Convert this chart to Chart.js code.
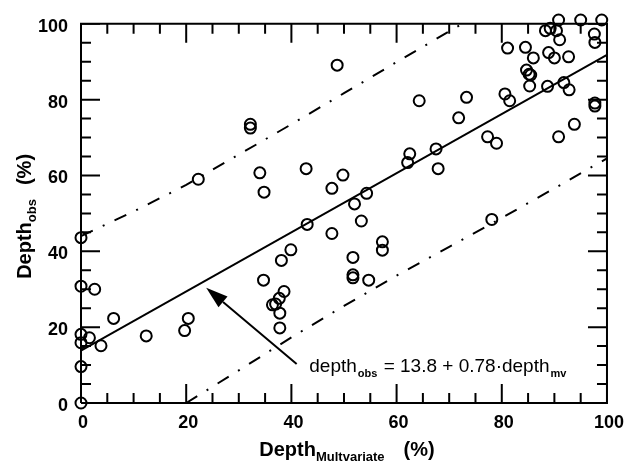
<!DOCTYPE html>
<html>
<head>
<meta charset="utf-8">
<script src="https://cdn.jsdelivr.net/npm/chart.js@4.4.0/dist/chart.umd.min.js"></script>
<style>
  html, body { margin: 0; padding: 0; background: #fff; }
</style>
</head>
<body>
<canvas id="grafico" width="631" height="467"></canvas>
<script>
// observed points: depth multivariate (x) vs depth obs (y)
const depthMv = [0, 0, 0, 0, 0, 0, 1.6, 2.6, 3.8, 6.2, 12.4, 19.7, 20.4, 22.3, 32.2, 32.2, 34.0, 34.8, 42.8, 47.7,
  48.7, 49.8, 64.3, 73.3, 71.8, 62.5, 62.1, 67.5, 67.9, 54.3, 52.0, 90.8, 95.0, 99.0, 97.6, 97.7, 88.3, 89.2, 90.4, 91.0,
  81.1, 84.5, 86.0, 88.9, 90.0, 92.7, 84.7, 85.2, 85.5, 85.3, 88.7, 91.8, 92.8, 80.6, 81.5, 97.7, 97.7, 93.8, 90.8, 77.3,
  79.0, 78.1, 43.0, 47.7, 39.9, 38.1, 34.7, 38.6, 37.7, 36.4, 37.0, 37.8, 37.8, 53.3, 57.3, 57.3, 51.7, 51.7, 51.7, 54.7];
const depthObs = [0, 9.6, 15.9, 18.1, 30.8, 43.6, 17.2, 30.0, 15.1, 22.3, 17.7, 19.1, 22.3, 59.0, 73.5, 72.5, 60.7, 55.6, 61.8, 56.6,
  89.1, 60.1, 79.7, 80.6, 75.2, 65.7, 63.4, 67.0, 61.8, 55.3, 52.5, 101, 101, 101, 97.3, 95.1, 98.2, 98.8, 98.2, 95.8,
  93.6, 93.8, 91.0, 92.4, 91.0, 91.3, 87.8, 86.7, 86.5, 83.6, 83.5, 84.5, 82.6, 81.5, 79.7, 79.1, 78.3, 73.5, 70.2, 70.2,
  68.5, 48.4, 47.1, 44.7, 40.4, 37.6, 32.4, 29.4, 27.6, 25.9, 26.1, 23.7, 19.8, 48.0, 42.5, 40.3, 38.4, 33.8, 33.0, 32.4];

// regression line
const fitX = [0, 100];
const fitY = [13.8, 91.8];

// upper / lower bands (dash-dot)
const upperX = [0, 10, 20, 30, 40, 50, 60, 70, 72.5];
const upperY = [44, 50.5, 57.5, 65.5, 73.5, 81.7, 89.9, 98, 100];
const lowerX = [20, 30, 40, 50, 60, 70, 80, 90, 96, 100];
const lowerY = [0, 8.6, 17.3, 25.6, 33.6, 41.2, 48.8, 56.6, 61.4, 64.5];

const tickVals = [0, 20, 40, 60, 80, 100];
const minorVals = [0, 5, 10, 15, 20, 25, 30, 35, 40, 45, 50, 55, 60, 65, 70, 75, 80, 85, 90, 95, 100];
const axisMin = 0;
const axisMax = 100;

// arrow + equation (data coords)
const arrowTip = [23.8, 30.4];
const arrowTail = [41.0, 10.3];
const eqPos = [43.4, 8.3];

const FONTE = '"Liberation Sans", Arial, sans-serif';

function pares(xs, ys) {
  return xs.map((v, i) => ({ x: v, y: ys[i] }));
}

// tick marks on the four sides, as 'line' points half clipped by the chart area
const marcasV = [];
const marcasH = [];
minorVals.forEach(v => {
  const r = tickVals.indexOf(v) >= 0 ? 19 : 10;
  marcasV.push({ x: v, y: axisMin, r: r }, { x: v, y: axisMax, r: r });
  marcasH.push({ x: axisMin, y: v, r: r }, { x: axisMax, y: v, r: r });
});
const caixa = [
  { x: axisMin, y: axisMin }, { x: axisMax, y: axisMin },
  { x: axisMax, y: axisMax }, { x: axisMin, y: axisMax }, { x: axisMin, y: axisMin }
];

// draws a run of text pieces one after the other
function escreve(ctx, partes, x, y) {
  let cx = x;
  for (const p of partes) {
    ctx.font = p.font;
    cx += p.gap || 0;
    ctx.fillText(p.t, cx, y + (p.dy || 0));
    cx += ctx.measureText(p.t).width;
  }
  return cx - x;
}
function largura(ctx, partes) {
  let w = 0;
  for (const p of partes) {
    ctx.font = p.font;
    w += (p.gap || 0) + ctx.measureText(p.t).width;
  }
  return w;
}

const anotacoes = {
  id: 'anotacoes',
  afterDatasetsDraw(chart) {
    const { ctx, scales: { x, y } } = chart;
    ctx.save();
    ctx.fillStyle = '#000';
    ctx.strokeStyle = '#000';
    // arrow
    const tx = x.getPixelForValue(arrowTip[0]), ty = y.getPixelForValue(arrowTip[1]);
    const sx = x.getPixelForValue(arrowTail[0]), sy = y.getPixelForValue(arrowTail[1]);
    const ang = Math.atan2(ty - sy, tx - sx);
    const head = 22, half = 7;
    const bx = tx - head * Math.cos(ang), by = ty - head * Math.sin(ang);
    ctx.lineWidth = 2;
    ctx.beginPath();
    ctx.moveTo(sx, sy);
    ctx.lineTo(bx, by);
    ctx.stroke();
    ctx.beginPath();
    ctx.moveTo(tx, ty);
    ctx.lineTo(bx + half * Math.sin(ang), by - half * Math.cos(ang));
    ctx.lineTo(bx - half * Math.sin(ang), by + half * Math.cos(ang));
    ctx.closePath();
    ctx.fill();
    // equation
    ctx.textBaseline = 'alphabetic';
    ctx.textAlign = 'left';
    escreve(ctx, [
      { t: 'depth', font: '19px ' + FONTE },
      { t: 'obs', font: 'bold 11px ' + FONTE, dy: 5, gap: 1 },
      { t: ' = 13.8 + 0.78\u00B7depth', font: '19px ' + FONTE, gap: 1 },
      { t: 'mv', font: 'bold 11px ' + FONTE, dy: 5, gap: 1 }
    ], x.getPixelForValue(eqPos[0]), y.getPixelForValue(eqPos[1]));
    ctx.restore();
  },
  afterDraw(chart) {
    const { ctx, chartArea: a } = chart;
    ctx.save();
    ctx.fillStyle = '#000';
    ctx.textBaseline = 'alphabetic';
    ctx.textAlign = 'left';
    // x title
    const tituloX = [
      { t: 'Depth', font: 'bold 20px ' + FONTE },
      { t: 'Multvariate', font: 'bold 13px ' + FONTE, dy: 5 },
      { t: '(%)', font: 'bold 20px ' + FONTE, gap: 19 }
    ];
    const wx = largura(ctx, tituloX);
    escreve(ctx, tituloX, (a.left + a.right) / 2 + 3 - wx / 2, 456);
    // y title (rotated)
    const tituloY = [
      { t: 'Depth', font: 'bold 20px ' + FONTE },
      { t: 'obs', font: 'bold 13px ' + FONTE, dy: 5 },
      { t: '(%)', font: 'bold 20px ' + FONTE, gap: 14 }
    ];
    const wy = largura(ctx, tituloY);
    ctx.translate(31, (a.top + a.bottom) / 2 + 3 + wy / 2);
    ctx.rotate(-Math.PI / 2);
    escreve(ctx, tituloY, 0, 0);
    ctx.restore();
  }
};

const fonteTicks = { family: FONTE, size: 18, weight: 'bold' };

new Chart(document.getElementById('grafico'), {
  type: 'scatter',
  data: {
    datasets: [
      {
        data: pares(depthMv, depthObs),
        pointRadius: 5.5,
        pointBorderWidth: 2,
        borderColor: '#000',
        backgroundColor: 'rgba(0,0,0,0)',
        clip: false
      },
      {
        data: pares(fitX, fitY),
        showLine: true,
        pointRadius: 0,
        borderColor: '#000',
        borderWidth: 2
      },
      {
        data: pares(upperX, upperY),
        showLine: true,
        pointRadius: 0,
        borderColor: '#000',
        borderWidth: 2,
        borderDash: [13, 11, 2, 11]
      },
      {
        data: pares(lowerX, lowerY),
        showLine: true,
        pointRadius: 0,
        borderColor: '#000',
        borderWidth: 2,
        borderDash: [13, 11, 2, 11]
      },
      {
        // box around the plot
        data: caixa,
        showLine: true,
        pointRadius: 0,
        borderColor: '#000',
        borderWidth: 2,
        clip: false
      },
      {
        // vertical ticks (bottom and top)
        data: marcasV,
        pointStyle: 'line',
        pointRotation: 90,
        pointRadius: c => (c.raw ? c.raw.r : 10),
        pointBorderWidth: 2,
        pointBorderColor: '#000',
        borderColor: '#000',
        clip: 0
      },
      {
        // horizontal ticks (left and right)
        data: marcasH,
        pointStyle: 'line',
        pointRotation: 0,
        pointRadius: c => (c.raw ? c.raw.r : 10),
        pointBorderWidth: 2,
        pointBorderColor: '#000',
        borderColor: '#000',
        clip: 0
      }
    ]
  },
  options: {
    responsive: false,
    animation: false,
    devicePixelRatio: 1,
    events: [],
    layout: { padding: { top: 17, right: 19, left: 0, bottom: 0 } },
    plugins: {
      legend: { display: false },
      tooltip: { enabled: false }
    },
    scales: {
      x: {
        type: 'linear',
        min: axisMin,
        max: axisMax,
        afterBuildTicks: s => { s.ticks = tickVals.map(v => ({ value: v })); },
        afterFit: s => { s.height = 64; },
        grid: { display: false, drawTicks: false },
        border: { display: false },
        ticks: { font: fonteTicks, color: '#000', padding: 9, labelOffset: 2, maxRotation: 0 }
      },
      y: {
        type: 'linear',
        min: axisMin,
        max: axisMax,
        afterBuildTicks: s => { s.ticks = tickVals.map(v => ({ value: v })); },
        afterFit: s => { s.width = 81; },
        grid: { display: false, drawTicks: false },
        border: { display: false },
        ticks: { font: fonteTicks, color: '#000', padding: 13, labelOffset: 3 }
      }
    }
  },
  plugins: [anotacoes]
});
</script>
</body>
</html>
